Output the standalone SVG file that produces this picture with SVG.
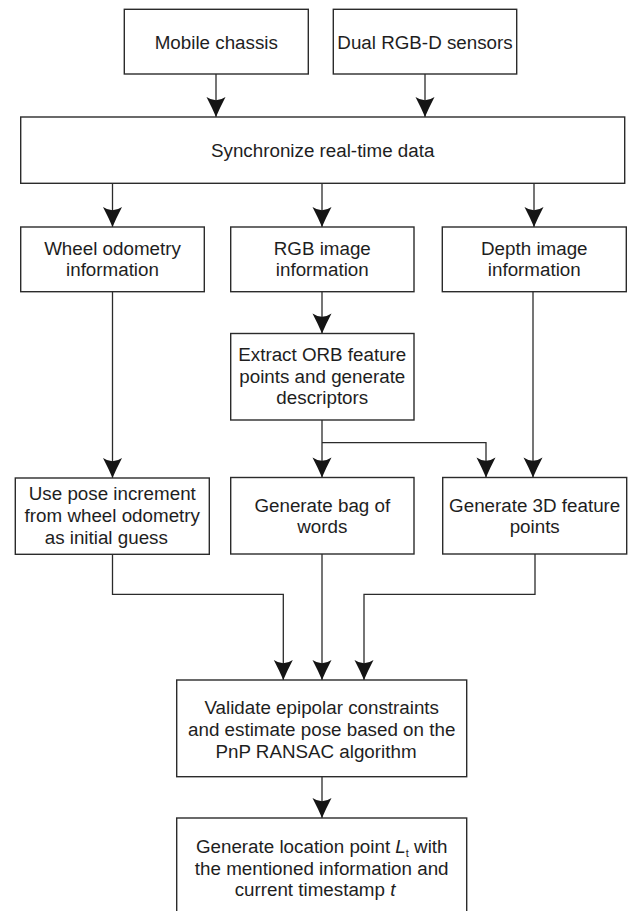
<svg xmlns="http://www.w3.org/2000/svg" width="630" height="911" viewBox="0 0 630 911">
<defs>
<style>
.box{fill:#fff;stroke:#2b2b2b;stroke-width:1.4}
.t{font-family:"Liberation Sans",Arial,Helvetica,sans-serif;font-size:18.8px;fill:#1e1e1e;text-anchor:middle}
.c{fill:none;stroke:#2b2b2b;stroke-width:1.3;marker-end:url(#ah)}
</style>
<marker id="ah" markerUnits="userSpaceOnUse" markerWidth="24" markerHeight="24" viewBox="-22 -12 24 24" refX="0" refY="0" orient="auto">
<path d="M0,0 Q-9,-3.8 -20,-9.5 Q-13.5,0 -20,9.5 Q-9,3.8 0,0 Z" fill="#151515"/>
</marker>
</defs>
<rect width="630" height="911" fill="#fff"/>
<g id="connectors">
<path class="c" d="M216,74 V117"/>
<path class="c" d="M425,74 V117"/>
<path class="c" d="M112.5,183 V227"/>
<path class="c" d="M322,183 V227"/>
<path class="c" d="M534,183 V227"/>
<path class="c" d="M322,292 V333.5"/>
<path class="c" d="M112.5,292 V478"/>
<path class="c" d="M322,420 V477.5"/>
<path class="c" d="M322,442.7 H486 V477.5"/>
<path class="c" d="M533,292 V477.5"/>
<path class="c" d="M112.5,554 V594.3 H283.3 V680"/>
<path class="c" d="M322,554 V680"/>
<path class="c" d="M535,554 V594.3 H364 V680"/>
<path class="c" d="M322,777 V818"/>
</g>
<g id="mobile-chassis">
<rect class="box" x="124.3" y="9.3" width="184" height="64.7"/>
<text class="t" x="216.3" y="48.8">Mobile chassis</text>
</g>
<g id="dual-rgbd">
<rect class="box" x="333.3" y="9.3" width="183.4" height="64.7"/>
<text class="t" x="425" y="48.8">Dual RGB-D sensors</text>
</g>
<g id="sync">
<rect class="box" x="20.7" y="117" width="604" height="66.3"/>
<text class="t" x="322.7" y="156.5">Synchronize real-time data</text>
</g>
<g id="wheel-odometry">
<rect class="box" x="20.7" y="227" width="183.6" height="64.7"/>
<text class="t" x="112.5" y="254.5">Wheel odometry</text>
<text class="t" x="112.5" y="276">information</text>
</g>
<g id="rgb-image">
<rect class="box" x="230.7" y="227" width="183.3" height="64.7"/>
<text class="t" x="322.3" y="254.5">RGB image</text>
<text class="t" x="322.3" y="276">information</text>
</g>
<g id="depth-image">
<rect class="box" x="442.3" y="227" width="184" height="64.7"/>
<text class="t" x="534.3" y="254.5">Depth image</text>
<text class="t" x="534.3" y="276">information</text>
</g>
<g id="extract-orb">
<rect class="box" x="230.7" y="333.5" width="183.3" height="86.5"/>
<text class="t" x="322.3" y="361">Extract ORB feature</text>
<text class="t" x="322.3" y="382.7">points and generate</text>
<text class="t" x="322.3" y="404.3">descriptors</text>
</g>
<g id="use-pose">
<rect class="box" x="15.3" y="478" width="194" height="76.3"/>
<text class="t" x="112.3" y="500">Use pose increment</text>
<text class="t" x="112.3" y="521.7">from wheel odometry</text>
<text class="t" x="106.3" y="543.5">as initial guess</text>
</g>
<g id="bag-of-words">
<rect class="box" x="230.7" y="477.5" width="183.3" height="76.5"/>
<text class="t" x="322.3" y="511.7">Generate bag of</text>
<text class="t" x="322.3" y="533.3">words</text>
</g>
<g id="feature-3d">
<rect class="box" x="442.7" y="477.5" width="184" height="76.5"/>
<text class="t" x="534.7" y="511.7">Generate 3D feature</text>
<text class="t" x="534.7" y="533.3">points</text>
</g>
<g id="validate">
<rect class="box" x="176.7" y="680" width="290" height="96.7"/>
<text class="t" x="321.7" y="714">Validate epipolar constraints</text>
<text class="t" x="321.7" y="735.7">and estimate pose based on the</text>
<text class="t" x="316" y="757.5">PnP RANSAC algorithm</text>
</g>
<g id="location-point">
<rect class="box" x="176.7" y="818" width="290" height="110"/>
<text class="t" x="321.7" y="853">Generate location point <tspan font-style="italic">L</tspan><tspan font-size="11" dy="4">t</tspan><tspan dy="-4"> with</tspan></text>
<text class="t" x="321.7" y="874.5">the mentioned information and</text>
<text class="t" x="315" y="896">current timestamp <tspan font-style="italic">t</tspan></text>
</g>
</svg>
